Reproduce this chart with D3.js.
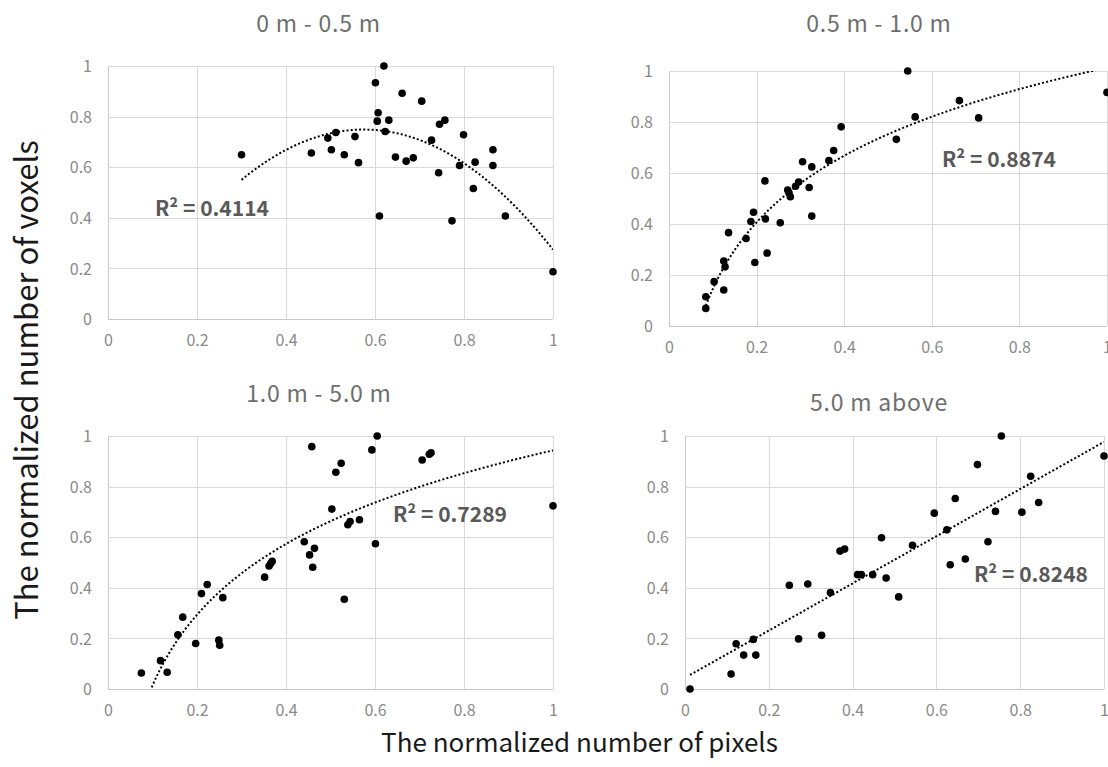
<!DOCTYPE html>
<html><head><meta charset="utf-8">
<script src="https://cdn.jsdelivr.net/npm/d3@7"></script>
<style>body{margin:0;background:#fff}</style></head>
<body><svg id="c" width="1108" height="767"></svg>
<script>
// ---------- data ----------
const titles = ["0 m - 0.5 m", "0.5 m - 1.0 m", "1.0 m - 5.0 m", "5.0 m above"];
const r2Labels = ["R\u00B2 = 0.4114", "R\u00B2 = 0.8874", "R\u00B2 = 0.7289", "R\u00B2 = 0.8248"];
const trendTypes = ["poly2", "log", "log", "linear"];
const tickValues = [0, 0.2, 0.4, 0.6, 0.8, 1];
const xTitle = "The normalized number of pixels";
const yTitle = "The normalized number of voxels";

const pixels0 = [0.300,0.457,0.494,0.502,0.512,0.531,0.555,0.563,0.601,0.607,0.605,0.620,0.610,0.623,0.631,0.646,0.661,0.670,0.686,0.705,0.727,0.745,0.757,0.743,0.773,0.790,0.799,0.821,0.825,0.865,0.865,0.893,1.000];
const voxels0 = [0.649,0.656,0.715,0.669,0.737,0.649,0.721,0.618,0.934,0.815,0.782,1.000,0.407,0.741,0.786,0.640,0.892,0.624,0.637,0.861,0.707,0.770,0.786,0.578,0.388,0.607,0.728,0.516,0.620,0.669,0.607,0.407,0.187];

const pixels1 = [0.084,0.084,0.103,0.125,0.125,0.128,0.136,0.176,0.187,0.193,0.196,0.219,0.220,0.224,0.254,0.271,0.274,0.277,0.289,0.296,0.305,0.320,0.326,0.326,0.365,0.376,0.393,0.519,0.545,0.562,0.663,0.707,1.000];
const voxels1 = [0.069,0.115,0.174,0.141,0.255,0.232,0.366,0.343,0.410,0.446,0.249,0.569,0.420,0.286,0.405,0.533,0.522,0.507,0.548,0.565,0.644,0.543,0.624,0.431,0.649,0.688,0.781,0.732,1.000,0.820,0.884,0.816,0.916];

const pixels2 = [0.075,0.118,0.133,0.157,0.168,0.197,0.210,0.223,0.249,0.251,0.258,0.352,0.362,0.366,0.369,0.441,0.453,0.458,0.460,0.464,0.503,0.512,0.524,0.531,0.539,0.544,0.565,0.593,0.601,0.605,0.706,0.722,0.726,1.000];
const voxels2 = [0.063,0.112,0.066,0.214,0.284,0.180,0.377,0.413,0.193,0.173,0.361,0.442,0.486,0.497,0.505,0.582,0.530,0.958,0.481,0.556,0.711,0.857,0.892,0.355,0.649,0.662,0.669,0.945,0.574,1.000,0.905,0.928,0.934,0.724];

const pixels3 = [0.012,0.110,0.122,0.140,0.163,0.169,0.249,0.271,0.293,0.326,0.347,0.370,0.381,0.412,0.421,0.448,0.469,0.480,0.510,0.543,0.595,0.625,0.633,0.645,0.669,0.698,0.723,0.741,0.755,0.804,0.825,0.844,1.000];
const voxels3 = [0.000,0.059,0.179,0.134,0.196,0.134,0.410,0.198,0.415,0.212,0.381,0.545,0.553,0.452,0.452,0.452,0.598,0.439,0.364,0.568,0.695,0.629,0.491,0.753,0.514,0.887,0.582,0.702,1.000,0.699,0.841,0.737,0.921];

const pixelSets = [pixels0, pixels1, pixels2, pixels3];
const voxelSets = [voxels0, voxels1, voxels2, voxels3];

// ---------- layout ----------
const plots = [
  {l:108, r:553, t:66, b:319},
  {l:669, r:1107, t:71, b:326},
  {l:108, r:553, t:436, b:689},
  {l:685, r:1104, t:436, b:689}
];
const titlePos = [[318.5,32],[879,31.7],[319,401.7],[879,411]];
const r2Pos = [[155,215.7],[942,167.3],[393,521.7],[974,582.3]];

const FONT = "'Noto Sans CJK JP','Noto Sans',sans-serif";
const svg = d3.select("#c");
svg.append("rect").attr("width",1108).attr("height",767).attr("fill","#fff");

// ---------- regressions ----------
function fitLinear(xs, ys){
  const n=xs.length, mx=d3.mean(xs), my=d3.mean(ys);
  let sxy=0,sxx=0; for(let i=0;i<n;i++){sxy+=(xs[i]-mx)*(ys[i]-my);sxx+=(xs[i]-mx)**2;}
  const a=sxy/sxx, b=my-a*mx; return x=>a*x+b;
}
function fitLog(xs, ys){
  const f=fitLinear(xs.map(Math.log), ys); return x=>f(Math.log(x));
}
function fitPoly2(xs, ys){
  let S=[0,0,0,0,0], T=[0,0,0];
  xs.forEach((x,i)=>{for(let k=0;k<5;k++)S[k]+=x**k; for(let k=0;k<3;k++)T[k]+=ys[i]*x**k;});
  const M=[[S[0],S[1],S[2],T[0]],[S[1],S[2],S[3],T[1]],[S[2],S[3],S[4],T[2]]];
  for(let i=0;i<3;i++){for(let j=i+1;j<3;j++){const f=M[j][i]/M[i][i];for(let k=i;k<4;k++)M[j][k]-=f*M[i][k];}}
  const c=[0,0,0];
  for(let i=2;i>=0;i--){let s=M[i][3];for(let k=i+1;k<3;k++)s-=M[i][k]*c[k];c[i]=s/M[i][i];}
  return x=>c[0]+c[1]*x+c[2]*x*x;
}
const fitters = {linear:fitLinear, log:fitLog, poly2:fitPoly2};

// ---------- panels ----------
plots.forEach((p,i)=>{
  const xs = pixelSets[i], ys = voxelSets[i];
  const x = d3.scaleLinear().domain([0,1]).range([p.l,p.r]);
  const y = d3.scaleLinear().domain([0,1]).range([p.b,p.t]);
  const g = svg.append("g");
  const snap = v=>Math.round(v)+0.5;

  // gridlines
  g.append("g").selectAll("line").data(tickValues).join("line")
    .attr("x1",d=>snap(x(d))).attr("x2",d=>snap(x(d)))
    .attr("y1",p.t).attr("y2",p.b)
    .attr("stroke", d=>d===0?"#c8c8c8":"#d9d9d9").attr("stroke-width",1);
  g.append("g").selectAll("line").data(tickValues).join("line")
    .attr("y1",d=>snap(y(d))).attr("y2",d=>snap(y(d)))
    .attr("x1",p.l).attr("x2",p.r)
    .attr("stroke", d=>d===0?"#c8c8c8":"#d9d9d9").attr("stroke-width",1);

  // axes via d3 axes (labels only)
  const fmt = d=>d3.format("~g")(d);
  const ax = g.append("g").attr("transform",`translate(0,${p.b})`)
    .call(d3.axisBottom(x).tickValues(tickValues).tickFormat(fmt).tickSize(0).tickPadding(0));
  ax.select(".domain").remove();
  ax.selectAll("text").attr("dy",null).attr("y",27)
    .attr("font-family",FONT).attr("font-size",16).attr("fill","#8a8a8a");
  const ay = g.append("g").attr("transform",`translate(${p.l},0)`)
    .call(d3.axisLeft(y).tickValues(tickValues).tickFormat(fmt).tickSize(0).tickPadding(0));
  ay.select(".domain").remove();
  ay.selectAll("text").attr("x",-16).attr("dy","0.36em")
    .attr("font-family",FONT).attr("font-size",16).attr("fill","#8a8a8a");

  // trendline (clipped to plot area)
  const cid = "clip"+i;
  svg.append("clipPath").attr("id",cid).append("rect")
    .attr("x",p.l).attr("y",p.t).attr("width",p.r-p.l).attr("height",p.b-p.t);
  const f = fitters[trendTypes[i]](xs, ys);
  const x0 = d3.min(xs), x1 = d3.max(xs);
  const pts = d3.range(0,301).map(k=>x0+(x1-x0)*k/300);
  g.append("path").datum(pts)
    .attr("clip-path",`url(#${cid})`)
    .attr("d", d3.line().x(d=>x(d)).y(d=>y(f(d))))
    .attr("fill","none").attr("stroke","#000").attr("stroke-width",2)
    .attr("stroke-dasharray","2,2.2");

  // points
  g.append("g").selectAll("circle").data(xs.map((d,k)=>[d,ys[k]])).join("circle")
    .attr("cx",d=>x(d[0])).attr("cy",d=>y(d[1])).attr("r",3.8).attr("fill","#000");

  // title
  svg.append("text").attr("x",titlePos[i][0]).attr("y",titlePos[i][1])
    .attr("text-anchor","middle").attr("font-family",FONT).attr("font-size",23)
    .attr("letter-spacing",0.8).attr("fill","#6e6e6e").text(titles[i]);

  // R² label
  svg.append("text").attr("x",r2Pos[i][0]).attr("y",r2Pos[i][1])
    .attr("font-family",FONT).attr("font-size",21).attr("font-weight","bold")
    .attr("fill","#595959").text(r2Labels[i]);
});

// axis titles
svg.append("text").attr("x",579.5).attr("y",752).attr("text-anchor","middle")
  .attr("font-family",FONT).attr("font-size",26).attr("fill","#1a1a1a").text(xTitle);
svg.append("text").attr("transform","translate(38,380) rotate(-90)").attr("text-anchor","middle")
  .attr("font-family",FONT).attr("font-size",31).attr("fill","#1a1a1a").text(yTitle);
</script></body></html>
